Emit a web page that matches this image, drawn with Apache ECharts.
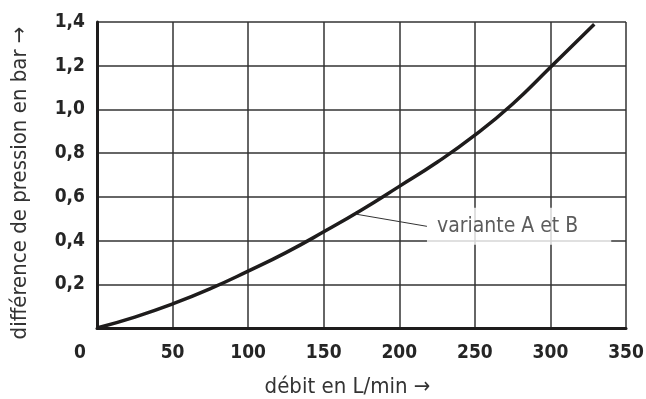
<!DOCTYPE html>
<html>
<head>
<meta charset="utf-8">
<script src="https://cdn.jsdelivr.net/npm/echarts@6.0.0/dist/echarts.min.js"></script>
<style>
  html, body { margin: 0; padding: 0; background: #fff; }
  #chart { width: 646px; height: 399px; }
</style>
</head>
<body>
<div id="chart"></div>
<script>
// débit (L/min) et différence de pression (bar)
var flowValues = [0, 25, 50, 75, 100, 125, 150, 175, 200, 225, 250, 275, 300, 329];
var pressureValues = [0, 0.05, 0.11, 0.18, 0.26, 0.345, 0.44, 0.54, 0.648, 0.758, 0.882, 1.025, 1.193, 1.39];
var xTicks = [0, 50, 100, 150, 200, 250, 300, 350];
var yTicks = [0, 0.2, 0.4, 0.6, 0.8, 1.0, 1.2, 1.4];
var curveLabel = 'variante A et B';
var labelAnchor = [172, 0.52];

var font = '"DejaVu Sans Condensed", "DejaVu Sans", sans-serif';
var ink = '#1e1c1c';

var curveData = flowValues.map(function (x, i) { return [x, pressureValues[i]]; });

var chart = echarts.init(document.getElementById('chart'));

var option = {
    backgroundColor: '#fff',
    animation: false,
    grid: { left: 97, right: 20, top: 22, bottom: 71, containLabel: false, outerBoundsMode: 'none' },
    xAxis: {
        type: 'value',
        min: xTicks[0],
        max: xTicks[xTicks.length - 1],
        interval: 50,
        name: 'débit en L/min →',
        nameLocation: 'middle',
        nameGap: 48,
        nameTextStyle: { fontFamily: font, fontSize: 22, color: '#333', padding: [0, 28, 0, 0] },
        axisLine: { show: true, lineStyle: { color: ink, width: 3 } },
        axisTick: { show: false },
        axisLabel: {
            margin: 16,
            fontFamily: font,
            fontWeight: 'bold',
            fontSize: 19,
            color: '#252525',
            formatter: function (v) { return v === 0 ? '{z|0}' : String(v); },
            rich: {
                z: { fontFamily: font, fontWeight: 'bold', fontSize: 19, color: '#252525', padding: [0, 34, 0, 0] }
            }
        },
        splitLine: { show: true, lineStyle: { color: '#333', width: 1.5 } }
    },
    yAxis: {
        type: 'value',
        min: yTicks[0],
        max: yTicks[yTicks.length - 1],
        interval: 0.2,
        name: 'différence de pression en bar →',
        nameLocation: 'middle',
        nameGap: 66,
        nameTextStyle: { fontFamily: font, fontSize: 22, color: '#333', padding: [0, 16, 0, 0] },
        axisLine: { show: true, lineStyle: { color: ink, width: 3 } },
        axisTick: { show: false },
        axisLabel: {
            margin: 12,
            fontFamily: font,
            fontWeight: 'bold',
            fontSize: 19,
            color: '#252525',
            formatter: function (v) { return v === 0 ? '' : v.toFixed(1).replace('.', ','); }
        },
        splitLine: { show: true, lineStyle: { color: '#333', width: 1.5 } }
    },
    series: [
        {
            type: 'line',
            data: curveData,
            smooth: true,
            symbol: 'none',
            lineStyle: { color: ink, width: 3.5 },
            z: 3
        },
        {
            type: 'scatter',
            data: [labelAnchor],
            symbolSize: 0,
            z: 4,
            label: {
                show: true,
                position: 'right',
                distance: 0,
                formatter: curveLabel,
                fontFamily: font,
                fontSize: 21,
                color: '#333',
                backgroundColor: '#fff',
                padding: [8, 33, 8, 10]
            },
            labelLayout: { dx: 70, dy: 12 },
            labelLine: { show: true, lineStyle: { color: '#333', width: 1 } }
        }
    ]
};

chart.setOption(option);
</script>
</body>
</html>
